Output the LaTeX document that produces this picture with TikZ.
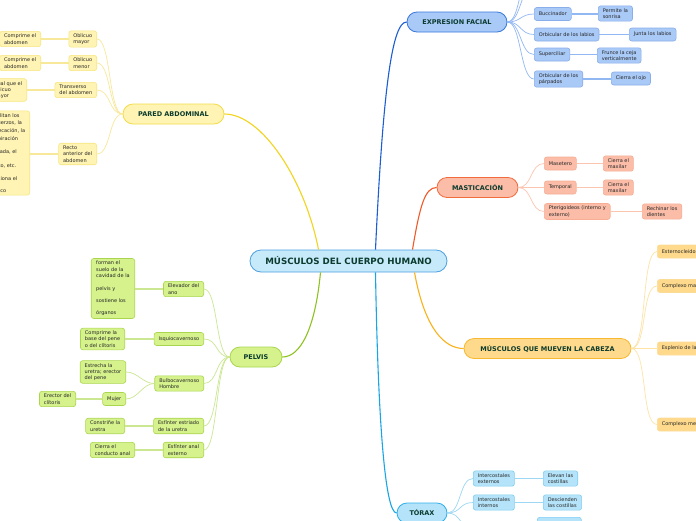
\documentclass[tikz,border=0pt]{standalone}
\usepackage{fontspec}
\setmainfont{DejaVu Sans}
\usetikzlibrary{calc}

\definecolor{titulo}{HTML}{0B3B2E}
\definecolor{texto}{HTML}{262626}
\definecolor{centroF}{HTML}{C7EAFB}
\definecolor{centroB}{HTML}{4C9FE0}
\definecolor{amaF}{HTML}{FFF4B3}
\definecolor{amaB}{HTML}{F3DC4A}
\definecolor{amaL}{HTML}{F2D41C}
\definecolor{amaS}{HTML}{F8E89A}
\definecolor{verF}{HTML}{D5F28C}
\definecolor{verB}{HTML}{A9D64E}
\definecolor{verL}{HTML}{8DC21F}
\definecolor{verS}{HTML}{CBE792}
\definecolor{azuF}{HTML}{A9C9F7}
\definecolor{azuB}{HTML}{3A78DC}
\definecolor{azuL}{HTML}{1C5ED2}
\definecolor{azuS}{HTML}{92B8F3}
\definecolor{narF}{HTML}{FBBDA8}
\definecolor{narB}{HTML}{F26B3D}
\definecolor{narL}{HTML}{F05A28}
\definecolor{narS}{HTML}{FBC5B0}
\definecolor{dorF}{HTML}{FFDA8C}
\definecolor{dorB}{HTML}{F7B92F}
\definecolor{dorL}{HTML}{F9B21A}
\definecolor{dorS}{HTML}{FDE3A6}
\definecolor{celF}{HTML}{B5E4FA}
\definecolor{celB}{HTML}{2DAEEA}
\definecolor{celL}{HTML}{19A5E5}
\definecolor{celS}{HTML}{9CD7F4}

\tikzset{
	centro/.style={draw=centroB, fill=centroF, line width=0.8pt, rounded corners=11pt, minimum width=197pt, minimum height=22pt, font=\bfseries\fontsize{8.7}{9}\selectfont, text=titulo},
	rama/.style 2 args={draw=#2, fill=#1, line width=0.8pt, rounded corners=10pt, minimum height=20pt, font=\bfseries\fontsize{6.5}{7}\selectfont, text=titulo},
	hoja/.style 2 args={draw=#2, fill=#1, line width=0.6pt, rounded corners=2.5pt, minimum height=13pt, inner xsep=4.5pt, inner ysep=2.6pt, align=left, font=\fontsize{5}{6.3}\selectfont, text=texto},
	linea/.style={line width=1.1pt, color=#1},
	sublinea/.style={line width=0.7pt, color=#1},
	hojalinea/.style={line width=1.2pt, color=#1},
}

\begin{document}
\begin{tikzpicture}[x=1pt, y=-1pt]
			%%%%% START %%%%%
			\useasboundingbox (0,0) rectangle (696,520);
			\fill[white] (0,0) rectangle (696,520);
			
			\node[centro] (musculos) at (348.5,261) {MÚSCULOS DEL CUERPO HUMANO};
			
			\node[rama={amaF}{amaB}, minimum width=101pt] (pared) at (173.5,114) {PARED ABDOMINAL};
			\node[rama={verF}{verB}, minimum width=52pt] (pelvis) at (256,357) {PELVIS};
			\node[rama={azuF}{azuB}, minimum width=100pt] (facial) at (457,22) {EXPRESION FACIAL};
			\node[rama={narF}{narB}, minimum width=81pt] (mastic) at (477.5,187.5) {MASTICACIÓN};
			\node[rama={dorF}{dorB}, minimum width=167pt] (cabeza) at (547.5,348.5) {MÚSCULOS QUE MUEVEN LA CABEZA};
			\node[rama={celF}{celB}, minimum width=50pt] (torax) at (422,513) {TÓRAX};
			
			\draw[linea=amaL] ([xshift=-30pt]musculos.north) .. controls (305,180) and (262,114) .. (pared.east);
			\draw[linea=azuL] ([xshift=27pt]musculos.north) .. controls (383,90) and (392,22) .. (facial.west);
			\draw[linea=narL] ([xshift=64pt]musculos.north) .. controls (420,205) and (425,187.5) .. (mastic.west);
			\draw[linea=verL] ([xshift=-28pt]musculos.south) .. controls (315,330) and (300,357) .. (pelvis.east);
			\draw[linea=celL] ([xshift=27pt]musculos.south) .. controls (378,420) and (385,513) .. (torax.west);
			\draw[linea=dorL] ([xshift=66pt]musculos.south) .. controls (425,330) and (445,348.5) .. (cabeza.west);
			
			% pared abdominal
			\node[hoja={amaF}{amaB!70}, anchor=east] (omayor) at (97,39) {Oblicuo\\mayor};
			\node[hoja={amaF}{amaB!70}, anchor=east] (comprime1) at (41,39) {Comprime el\\abdomen};
			\node[hoja={amaF}{amaB!70}, anchor=east] (omenor) at (97,63) {Oblicuo\\menor};
			\node[hoja={amaF}{amaB!70}, anchor=east] (comprime2) at (41,63) {Comprime el\\abdomen};
			\node[hoja={amaF}{amaB!70}, anchor=east] (transverso) at (97,90) {Transverso\\del abdomen};
			\node[hoja={amaF}{amaB!70}, anchor=east] (igual) at (27,90) {Igual que el\\oblicuo\\mayor};
			\node[hoja={amaF}{amaB!70}, anchor=east] (recto) at (97,154) {Recto\\anterior del\\abdomen};
			\node[hoja={amaF}{amaB!70}, anchor=east, font=\fontsize{5}{7.6}\selectfont] (facilitan) at (30,153) {Facilitan los\\esfuerzos, la\\defecación, la\\respiración\\[6pt]forzada, el\\[6pt]parto, etc.\\[6pt]Flexiona el\\[4pt]tronco};
			
			\draw[sublinea=amaS] (pared.west) .. controls +(-14,0) and +(14,0) .. (omayor.east);
			\draw[sublinea=amaS] (pared.west) .. controls +(-14,0) and +(14,0) .. (omenor.east);
			\draw[sublinea=amaS] (pared.west) .. controls +(-14,0) and +(14,0) .. (transverso.east);
			\draw[sublinea=amaS] (pared.west) .. controls +(-14,0) and +(14,0) .. (recto.east);
			\draw[hojalinea=amaS] (omayor) -- (comprime1);
			\draw[hojalinea=amaS] (omenor) -- (comprime2);
			\draw[hojalinea=amaS] (transverso) -- (igual);
			\draw[hojalinea=amaS] (recto.west) -- (facilitan.east |- recto.west);
			
			% pelvis
			\node[hoja={verF}{verB}, anchor=east] (elevador) at (204,289) {Elevador del\\ano};
			\node[hoja={verF}{verB}, anchor=east, inner xsep=5pt, font=\fontsize{5}{6.4}\selectfont] (suelo) at (135,288.5) {forman el\\suelo de la\\cavidad de la\\[6pt]pelvis y\\[6pt]sostiene los\\[6pt]órganos};
			\node[hoja={verF}{verB}, anchor=east] (isquio) at (204,339) {Isquiocavernoso};
			\node[hoja={verF}{verB}, anchor=east] (basepene) at (125,339) {Comprime la\\base del pene\\o del clítoris};
			\node[hoja={verF}{verB}, anchor=east] (bulbo) at (204,383.5) {Bulbocavernoso\\Hombre};
			\node[hoja={verF}{verB}, anchor=east] (estrecha) at (126,372) {Estrecha la\\uretra; erector\\del pene};
			\node[hoja={verF}{verB}, anchor=east] (mujer) at (126,399) {Mujer};
			\node[hoja={verF}{verB}, anchor=east] (erector) at (76,399) {Erector del\\clítoris};
			\node[hoja={verF}{verB}, anchor=east] (estriado) at (204,426) {Esfínter estriado\\de la uretra};
			\node[hoja={verF}{verB}, anchor=east] (constrine) at (125,426) {Constriñe la\\uretra};
			\node[hoja={verF}{verB}, anchor=east] (anal) at (204,450) {Esfínter anal\\externo};
			\node[hoja={verF}{verB}, anchor=east] (conducto) at (135,450) {Cierra el\\conducto anal};
			
			\draw[sublinea=verS] (pelvis.west) .. controls +(-14,0) and +(14,0) .. (elevador.east);
			\draw[sublinea=verS] (pelvis.west) .. controls +(-14,0) and +(14,0) .. (isquio.east);
			\draw[sublinea=verS] (pelvis.west) .. controls +(-14,0) and +(14,0) .. (bulbo.east);
			\draw[sublinea=verS] (pelvis.west) .. controls +(-14,0) and +(14,0) .. (estriado.east);
			\draw[sublinea=verS] (pelvis.west) .. controls +(-14,0) and +(14,0) .. (anal.east);
			\draw[hojalinea=verS] (elevador) -- (suelo.east |- elevador.west);
			\draw[hojalinea=verS] (isquio) -- (basepene);
			\draw[sublinea=verS] (bulbo.west) .. controls +(-12,0) and +(12,0) .. (estrecha.east);
			\draw[sublinea=verS] (bulbo.west) .. controls +(-12,0) and +(12,0) .. (mujer.east);
			\draw[hojalinea=verS] (mujer) -- (erector);
			\draw[hojalinea=verS] (estriado) -- (constrine);
			\draw[hojalinea=verS] (anal) -- (conducto);
			
			% expresion facial
			\coordinate (facialA) at (534,-14);
			\coordinate (facialB) at (534,-36);
			\node[hoja={azuF}{azuB!60}, anchor=west] (buccinador) at (534,14) {Buccinador};
			\node[hoja={azuF}{azuB!60}, anchor=west] (sonrisa) at (598,13.5) {Permite la\\sonrisa};
			\node[hoja={azuF}{azuB!60}, anchor=west] (orblabios) at (534,34.5) {Orbicular de los labios};
			\node[hoja={azuF}{azuB!60}, anchor=west] (junta) at (629,34.5) {Junta los labios};
			\node[hoja={azuF}{azuB!60}, anchor=west] (superciliar) at (534,54.5) {Superciliar};
			\node[hoja={azuF}{azuB!60}, anchor=west] (frunce) at (597,55.5) {Frunce la ceja\\verticalmente};
			\node[hoja={azuF}{azuB!60}, anchor=west] (orbparpados) at (534,79) {Orbicular de los\\párpados};
			\node[hoja={azuF}{azuB!60}, anchor=west] (ojo) at (611,78.5) {Cierra el ojo};
			
			\draw[sublinea=azuS] (facial.east) .. controls +(14,0) and +(-14,0) .. (facialA);
			\draw[sublinea=azuS] (facial.east) .. controls +(14,0) and +(-14,0) .. (facialB);
			\draw[sublinea=azuS] (facial.east) .. controls +(14,0) and +(-14,0) .. (buccinador.west);
			\draw[sublinea=azuS] (facial.east) .. controls +(14,0) and +(-14,0) .. (orblabios.west);
			\draw[sublinea=azuS] (facial.east) .. controls +(14,0) and +(-14,0) .. (superciliar.west);
			\draw[sublinea=azuS] (facial.east) .. controls +(14,0) and +(-14,0) .. (orbparpados.west);
			\draw[hojalinea=azuS] (buccinador) -- (sonrisa.west |- buccinador.east);
			\draw[hojalinea=azuS] (orblabios) -- (junta);
			\draw[hojalinea=azuS] (superciliar) -- (frunce.west |- superciliar.east);
			\draw[hojalinea=azuS] (orbparpados) -- (ojo.west |- orbparpados.east);
			
			% masticacion
			\node[hoja={narF}{narB!55}, anchor=west] (masetero) at (544,163.5) {Masetero};
			\node[hoja={narF}{narB!55}, anchor=west] (maxilar1) at (603,163.5) {Cierra el\\maxilar};
			\node[hoja={narF}{narB!55}, anchor=west] (temporal) at (544,187.5) {Temporal};
			\node[hoja={narF}{narB!55}, anchor=west] (maxilar2) at (603,187.5) {Cierra el\\maxilar};
			\node[hoja={narF}{narB!55}, anchor=west] (pterigoideos) at (544,211.5) {Pterigoideos (interno y\\externo)};
			\node[hoja={narF}{narB!55}, anchor=west] (rechinar) at (642,211.5) {Rechinar los\\dientes};
			
			\draw[sublinea=narS] (mastic.east) .. controls +(14,0) and +(-14,0) .. (masetero.west);
			\draw[sublinea=narS] (mastic.east) .. controls +(14,0) and +(-14,0) .. (temporal.west);
			\draw[sublinea=narS] (mastic.east) .. controls +(14,0) and +(-14,0) .. (pterigoideos.west);
			\draw[hojalinea=narS] (masetero) -- (maxilar1);
			\draw[hojalinea=narS] (temporal) -- (maxilar2);
			\draw[hojalinea=narS] (pterigoideos) -- (rechinar);
			
			% cabeza
			\node[hoja={dorF}{dorB!50}, anchor=west] (esterno) at (657,251.5) {Esternocleidomastoideo};
			\node[hoja={dorF}{dorB!50}, anchor=west] (cmayor) at (657,286) {Complexo mayor};
			\node[hoja={dorF}{dorB!50}, anchor=west] (esplenio) at (657,348.5) {Esplenio de la cabeza};
			\node[hoja={dorF}{dorB!50}, anchor=west] (cmenor) at (657,424.5) {Complexo menor};
			
			\draw[sublinea=dorS] (cabeza.east) .. controls +(16,0) and +(-16,0) .. (esterno.west);
			\draw[sublinea=dorS] (cabeza.east) .. controls +(16,0) and +(-16,0) .. (cmayor.west);
			\draw[hojalinea=dorS] (cabeza.east) -- (esplenio.west);
			\draw[sublinea=dorS] (cabeza.east) .. controls +(16,0) and +(-16,0) .. (cmenor.west);
			
			% torax
			\node[hoja={celF}{celB!60}, anchor=west] (icexternos) at (473,478.5) {Intercostales\\externos};
			\node[hoja={celF}{celB!60}, anchor=west] (elevan) at (543,478.5) {Elevan las\\costillas};
			\node[hoja={celF}{celB!60}, anchor=west] (icinternos) at (473,502.5) {Intercostales\\internos};
			\node[hoja={celF}{celB!60}, anchor=west] (descienden) at (543,502.5) {Descienden\\las costillas};
			\coordinate (toraxC) at (473,528);
			\node[hoja={celF}{celB!60}, anchor=north west, minimum width=44pt, minimum height=19pt] (toraxD) at (537,517) {};
			
			\draw[sublinea=celS] (torax.east) .. controls +(14,0) and +(-14,0) .. (icexternos.west);
			\draw[sublinea=celS] (torax.east) .. controls +(14,0) and +(-14,0) .. (icinternos.west);
			\draw[sublinea=celS] (torax.east) .. controls +(14,0) and +(-14,0) .. (toraxC);
			\draw[hojalinea=celS] (icexternos) -- (elevan);
			\draw[hojalinea=celS] (icinternos) -- (descienden);
			\draw[hojalinea=celS] (toraxC) -- (toraxD.west |- toraxC);
			
			%%%%% END %%%%%
\end{tikzpicture}
\end{document}
